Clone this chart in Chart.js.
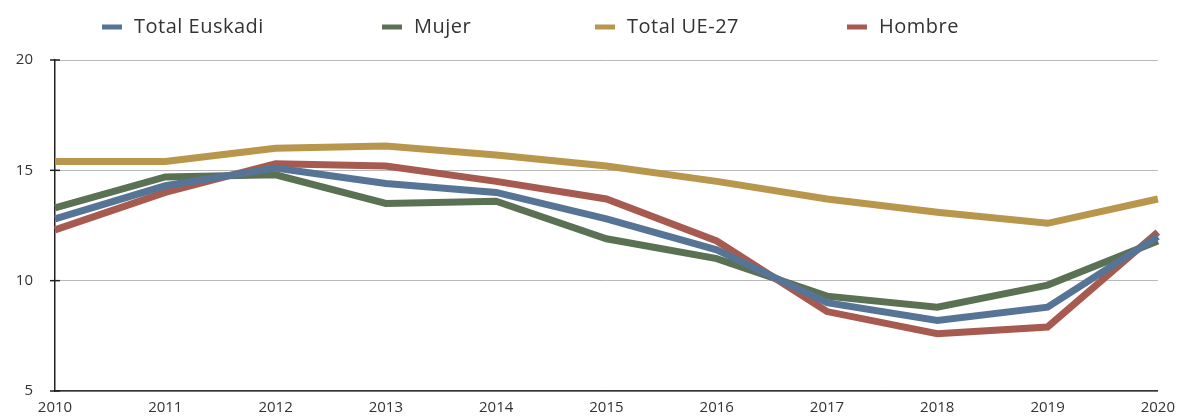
<!DOCTYPE html>
<html>
<head>
<meta charset="utf-8">
<script src="https://cdn.jsdelivr.net/npm/chart.js@4/dist/chart.umd.min.js"></script>
<style>
  html, body { margin: 0; padding: 0; background: #fff; overflow: hidden; }
  /* a bit larger than the window so the plot area lands where the original's does */
  #wrap { width: 1183px; height: 425px; position: relative; }
</style>
</head>
<body>
<div id="wrap"><canvas id="myChart"></canvas></div>
<script>
// Years on the x axis
const years = ['2010', '2011', '2012', '2013', '2014', '2015', '2016', '2017', '2018', '2019', '2020'];

// Series values
const totalEuskadi = [12.8, 14.3, 15.1, 14.4, 14.0, 12.8, 11.4, 9.0, 8.2, 8.8, 12.0];
const mujer        = [13.3, 14.7, 14.8, 13.5, 13.6, 11.9, 11.0, 9.3, 8.8, 9.8, 11.8];
const totalUE27    = [15.4, 15.4, 16.0, 16.1, 15.7, 15.2, 14.5, 13.7, 13.1, 12.6, 13.7];
const hombre       = [12.3, 14.0, 15.3, 15.2, 14.5, 13.7, 11.8, 8.6, 7.6, 7.9, 12.2];

// y ticks
const yTicks = [5, 10, 15, 20];

const FONT = "'Open Sans', 'DejaVu Sans', sans-serif";

// legend drawn by hand so the items sit where the original has them
const legendX = [102, 382, 595, 847];
const legendPlugin = {
    id: 'topLegend',
    afterDraw(chart) {
        const ctx = chart.ctx;
        ctx.save();
        ctx.font = '20px ' + FONT;
        ctx.letterSpacing = '0.5px';
        ctx.textBaseline = 'middle';
        ctx.fillStyle = '#333';
        chart.data.datasets.forEach(function (ds, i) {
            const x = legendX[i];
            ctx.strokeStyle = ds.borderColor;
            ctx.lineWidth = 5;
            ctx.beginPath();
            ctx.moveTo(x, 27);
            ctx.lineTo(x + 20, 27);
            ctx.stroke();
            ctx.fillText(ds.label, x + 32, 27);
        });
        ctx.restore();
    }
};

// little ticks crossing the y axis
const crossTicks = {
    id: 'crossTicks',
    afterDatasetsDraw(chart) {
        const ctx = chart.ctx;
        const y = chart.scales.y;
        const x0 = chart.chartArea.left;
        ctx.save();
        ctx.strokeStyle = '#222';
        ctx.lineWidth = 1.5;
        yTicks.forEach(function (v) {
            const py = y.getPixelForValue(v);
            ctx.beginPath();
            ctx.moveTo(x0 - 5, py);
            ctx.lineTo(x0 + 5, py);
            ctx.stroke();
        });
        ctx.restore();
    }
};

const data = {
    labels: years,
    datasets: [
        { label: 'Total Euskadi', data: totalEuskadi, borderColor: '#567596', order: 0 },
        { label: 'Mujer', data: mujer, borderColor: '#5B7153', order: 2 },
        { label: 'Total UE-27', data: totalUE27, borderColor: '#B8974D', order: 3 },
        { label: 'Hombre', data: hombre, borderColor: '#A75B50', order: 1 }
    ].map(function (d) {
        return Object.assign({ borderWidth: 7, pointRadius: 0, tension: 0, fill: false, borderCapStyle: 'butt', borderJoinStyle: 'miter' }, d);
    })
};

const config = {
    type: 'line',
    data: data,
    options: {
        responsive: true,
        maintainAspectRatio: false,
        animation: false,
        layout: { padding: { top: 60, right: 0, left: 0, bottom: 0 } },
        plugins: {
            legend: { display: false },
            tooltip: { enabled: false }
        },
        scales: {
            x: {
                offset: false,
                grid: { display: false, drawTicks: false },
                border: { color: '#333', width: 1.5 },
                ticks: { color: '#333', font: { family: FONT, size: 15 }, padding: 8, maxRotation: 0, autoSkip: false }
            },
            y: {
                min: 5,
                max: 20,
                afterBuildTicks: function (axis) {
                    axis.ticks = yTicks.map(function (v) { return { value: v }; });
                },
                grid: { color: '#b8b8b8', lineWidth: 1, drawTicks: false },
                border: { color: '#222', width: 1.5 },
                ticks: { color: '#333', font: { family: FONT, size: 15 }, padding: 22 },
                afterFit: function (axis) { axis.width = 55; }
            }
        }
    },
    plugins: [legendPlugin, crossTicks]
};

const myChart = new Chart(document.getElementById('myChart'), config);
</script>
</body>
</html>
